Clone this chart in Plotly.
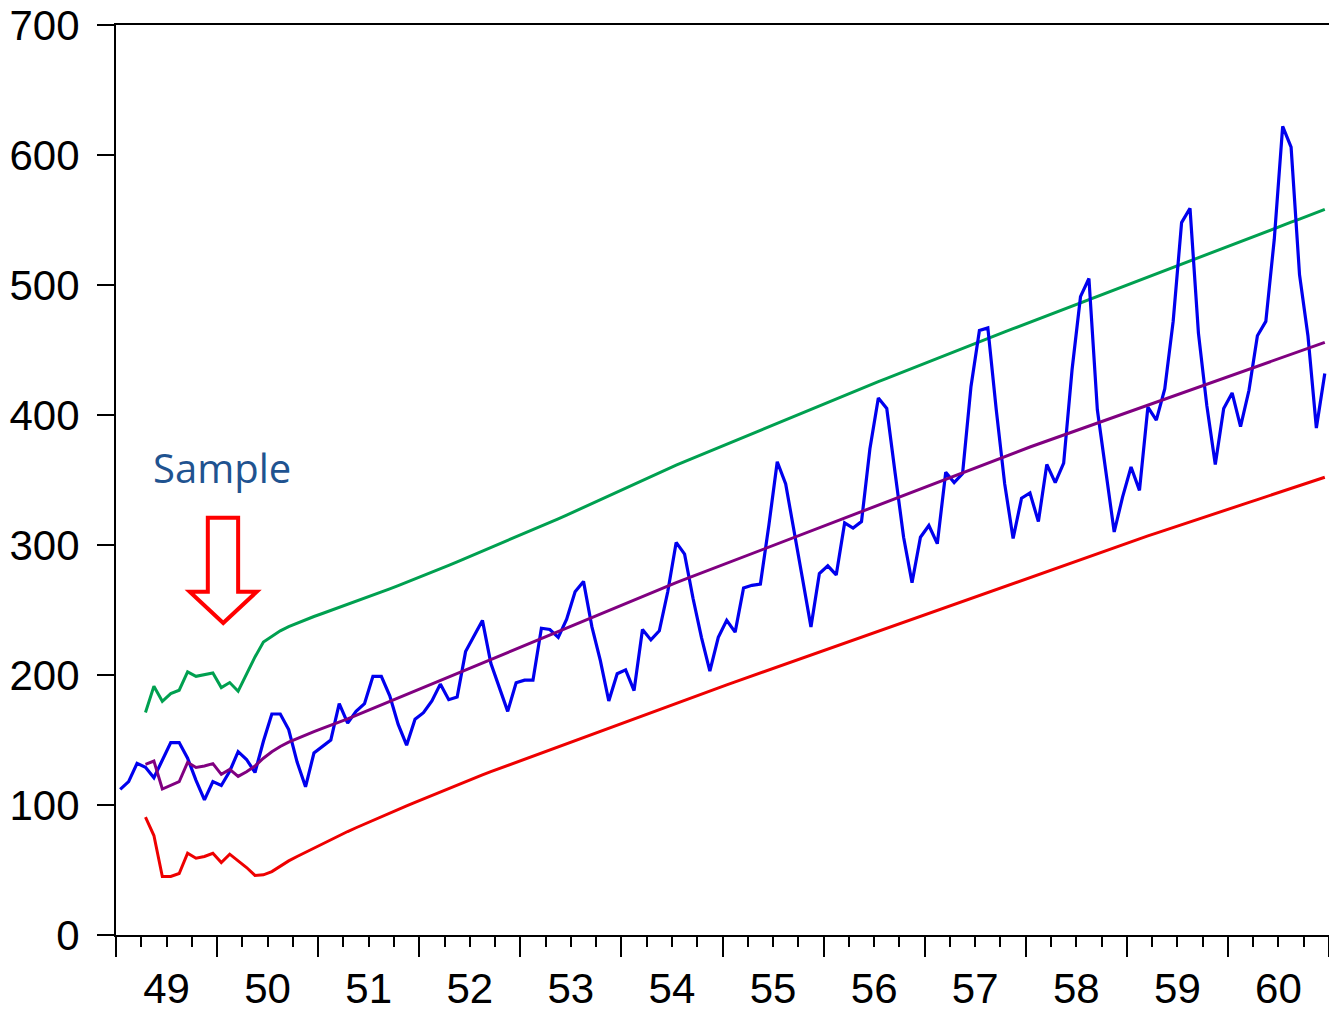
import plotly.graph_objects as go

# ---- data -------------------------------------------------------------
# monthly airline passengers, Jan 1949 .. Dec 1960 (month index 0..143)
passengers = [
    112, 118, 132, 129, 121, 135, 148, 148, 136, 119, 104, 118,
    115, 126, 141, 135, 125, 149, 170, 170, 158, 133, 114, 140,
    145, 150, 178, 163, 172, 178, 199, 199, 184, 162, 146, 166,
    171, 180, 193, 181, 183, 218, 230, 242, 209, 191, 172, 194,
    196, 196, 236, 235, 229, 243, 264, 272, 237, 211, 180, 201,
    204, 188, 235, 227, 234, 264, 302, 293, 259, 229, 203, 229,
    242, 233, 267, 269, 270, 315, 364, 347, 312, 274, 237, 278,
    284, 277, 317, 313, 318, 374, 413, 405, 355, 306, 271, 306,
    315, 301, 356, 348, 355, 422, 465, 467, 404, 347, 305, 336,
    340, 318, 362, 348, 363, 435, 491, 505, 404, 359, 310, 337,
    360, 342, 406, 396, 420, 472, 548, 559, 463, 407, 362, 405,
    417, 391, 419, 461, 472, 535, 622, 606, 508, 461, 390, 432,
]

# forecast lines start at Apr 1949 (month index 3)
forecast_start = 3

forecast_mean = [
    131.2, 133.8, 112.3, 115.3, 117.9, 132.8, 128.9, 130.0, 131.8,   # Apr-Dec 49
    123.6, 127.4, 122.0, 125.6, 130.0, 136.0, 141.0, 145.0, 148.3, 151.2, 153.9, 156.5,
    159.0, 161.3, 163.6, 166.3, 169.0, 171.7, 174.4, 177.1, 179.8, 182.5, 185.2, 187.9,
    190.6, 193.3, 196.0, 198.7, 201.4, 204.1, 206.8, 209.5, 212.2, 214.9, 217.6, 220.3,
    223.0, 225.7, 228.4, 231.1, 233.8, 236.5, 239.2, 241.9, 244.6, 247.3, 250.0, 252.7,
    255.4, 258.0, 260.6, 263.2, 265.8, 268.4, 271.0, 273.5, 276.0, 278.5, 281.0, 283.5,
    286.0, 288.5, 291.0, 293.5, 296.0, 298.5, 301.0, 303.5, 306.0, 308.5, 311.0, 313.5,
    316.0, 318.5, 321.0, 323.5, 326.0, 328.5, 331.0, 333.5, 336.0, 338.5, 341.0, 343.5,
    346.0, 348.5, 351.0, 353.5, 356.0, 358.5, 361.0, 363.5, 366.0, 368.5, 370.8, 373.1,
    375.4, 377.7, 380.0, 382.3, 384.6, 386.9, 389.2, 391.5, 393.8, 396.1, 398.4, 400.7,
    403.0, 405.3, 407.6, 409.9, 412.2, 414.5, 416.8, 419.1, 421.4, 423.7, 426.0, 428.3,
    430.6, 432.9, 435.2, 437.5, 439.8, 442.1, 444.4, 446.7, 449.0, 451.3, 453.6, 455.9,
]

forecast_upper = [
    171.2, 191.4, 179.8, 185.7, 188.3, 202.4, 199.0, 200.3, 201.6,
    190.3, 194.2, 187.5, 201.0, 213.9, 225.3, 230.0, 234.0, 237.2, 240.0, 242.6, 245.0,
    247.3, 249.6, 251.9, 254.2, 256.6, 259.0, 261.4, 263.8, 266.3, 268.8, 271.3, 273.9,
    276.5, 279.1, 281.7, 284.4, 287.1, 289.8, 292.6, 295.3, 298.1, 300.8, 303.6, 306.3,
    309.1, 311.8, 314.6, 317.3, 320.1, 323.0, 326.0, 328.9, 331.9, 334.8, 337.8, 340.7,
    343.7, 346.6, 349.6, 352.5, 355.5, 358.4, 361.4, 364.1, 366.8, 369.4, 372.1, 374.8,
    377.5, 380.2, 382.8, 385.5, 388.2, 390.9, 393.6, 396.2, 398.9, 401.6, 404.3, 406.9,
    409.6, 412.3, 415.0, 417.7, 420.4, 423.0, 425.6, 428.1, 430.7, 433.3, 435.9, 438.5,
    441.0, 443.6, 446.2, 448.8, 451.4, 453.9, 456.5, 459.0, 461.5, 463.9, 466.4, 468.9,
    471.4, 473.9, 476.3, 478.8, 481.3, 483.8, 486.3, 488.7, 491.2, 493.7, 496.2, 498.7,
    501.1, 503.6, 506.1, 508.6, 511.1, 513.5, 516.0, 518.5, 521.0, 523.5, 525.9, 528.4,
    530.9, 533.4, 535.9, 538.3, 540.8, 543.3, 545.8, 548.3, 550.7, 553.2, 555.7, 558.2,
]

forecast_lower = [
    90.6, 76.5, 45.0, 45.0, 47.3, 62.9, 59.1, 60.4, 62.9,
    55.7, 62.2, 57.0, 51.9, 45.8, 46.3, 48.8, 53.0, 57.0, 60.4, 63.7, 67.0,
    70.3, 73.5, 76.6, 79.6, 82.5, 85.4, 88.2, 91.0, 93.8, 96.6, 99.3, 102.0,
    104.7, 107.4, 110.1, 112.8, 115.5, 118.1, 120.6, 123.1, 125.6, 128.0, 130.4, 132.8,
    135.2, 137.6, 140.0, 142.4, 144.8, 147.2, 149.6, 152.0, 154.5, 156.9, 159.3, 161.7,
    164.2, 166.6, 169.0, 171.4, 173.8, 176.2, 178.6, 180.9, 183.2, 185.5, 187.8, 190.1,
    192.4, 194.7, 197.0, 199.3, 201.6, 203.9, 206.2, 208.5, 210.8, 213.1, 215.4, 217.7,
    220.0, 222.3, 224.6, 226.9, 229.2, 231.5, 233.8, 236.1, 238.4, 240.7, 243.0, 245.3,
    247.6, 249.9, 252.2, 254.5, 256.8, 259.1, 261.4, 263.7, 266.0, 268.3, 270.6, 272.9,
    275.2, 277.5, 279.8, 282.1, 284.4, 286.7, 289.0, 291.3, 293.6, 295.9, 298.2, 300.5,
    302.7, 304.8, 307.0, 309.1, 311.3, 313.4, 315.6, 317.7, 319.9, 322.0, 324.2, 326.3,
    328.5, 330.6, 332.8, 334.9, 337.1, 339.2, 341.4, 343.5, 345.7, 347.8, 350.0, 352.1,
]

year_labels = ["49", "50", "51", "52", "53", "54", "55", "56", "57", "58", "59", "60"]
y_ticks = [0, 100, 200, 300, 400, 500, 600, 700]

# ---- figure -----------------------------------------------------------
months = list(range(len(passengers)))
fc_months = months[forecast_start:]

FONT = "Liberation Sans, Arial, sans-serif"
fig = go.Figure()

fig.add_trace(go.Scatter(x=fc_months, y=forecast_upper, mode="lines",
                         line=dict(color="#00A050", width=3), showlegend=False))
fig.add_trace(go.Scatter(x=fc_months, y=forecast_lower, mode="lines",
                         line=dict(color="#EE0000", width=3), showlegend=False))
fig.add_trace(go.Scatter(x=months, y=passengers, mode="lines",
                         line=dict(color="#0000EE", width=3.2), showlegend=False))
fig.add_trace(go.Scatter(x=fc_months, y=forecast_mean, mode="lines",
                         line=dict(color="#800080", width=3), showlegend=False))
# helper trace so the label axis is drawn
fig.add_trace(go.Scatter(x=[None], y=[None], xaxis="x2", mode="lines",
                         showlegend=False, hoverinfo="skip"))

n_years = len(year_labels)
x_lo, x_hi = -0.5, len(passengers) - 0.5

fig.update_layout(
    width=1329, height=1012,
    margin=dict(l=116, r=0, t=25, b=75),
    paper_bgcolor="white", plot_bgcolor="white",
    font=dict(family=FONT, color="black"),
    xaxis=dict(
        range=[x_lo, x_hi],
        tickvals=[x_lo + 12 * k for k in range(n_years + 1)],
        ticktext=[""] * (n_years + 1),
        ticks="outside", ticklen=20, tickwidth=2, tickcolor="black",
        minor=dict(tick0=x_lo, dtick=3, ticks="outside", ticklen=10,
                   tickwidth=1.6, tickcolor="black", showgrid=False),
        showline=True, linewidth=2, linecolor="black", mirror=True,
        showgrid=False, zeroline=False,
    ),
    xaxis2=dict(
        overlaying="x", side="bottom", anchor="y",
        range=[x_lo, x_hi],
        tickvals=[x_lo + 6 + 12 * k for k in range(n_years)],
        ticktext=year_labels,
        ticks="outside", ticklen=17, tickcolor="rgba(0,0,0,0)",
        tickfont=dict(size=42, family=FONT, color="black"),
        showline=False, showgrid=False, zeroline=False,
    ),
    yaxis=dict(
        range=[0, 700],
        tickvals=y_ticks,
        ticks="outside", ticklen=17, tickwidth=2, tickcolor="black",
        ticklabelstandoff=9,
        tickfont=dict(size=42, family=FONT, color="black"),
        showline=True, linewidth=2, linecolor="black",
        showgrid=False, zeroline=False,
    ),
)

fig.add_annotation(x=12.1, y=360, xref="x", yref="y", text="Sample",
                   showarrow=False, font=dict(family="Open Sans, sans-serif",
                                              size=40, color="#1F5390"))

fig.add_shape(type="path", xref="x", yref="y",
              path="M 10.4,321 L 14.0,321 L 14.0,264 L 16.2,264 L 12.23,240 "
                   "L 8.25,264 L 10.4,264 Z",
              line=dict(color="#FF0000", width=4), fillcolor="white")

fig.write_html(
    "out.html",
    config={"displayModeBar": False},
    post_script="document.body.style.margin='0';document.body.style.overflow='hidden';",
)
